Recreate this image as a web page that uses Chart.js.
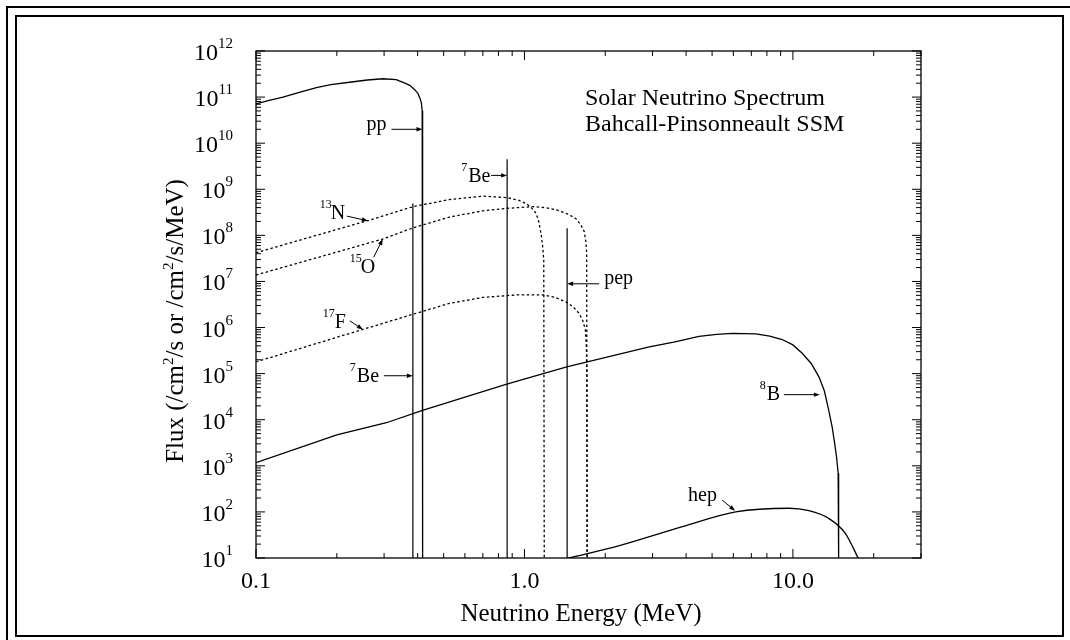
<!DOCTYPE html>
<html>
<head>
<meta charset="utf-8">
<script src="https://cdn.jsdelivr.net/npm/chart.js@4.4.1/dist/chart.umd.min.js"></script>
<style>
  html, body { margin: 0; padding: 0; background: #fff; }
  #wrap { width: 1070px; height: 640px; position: relative; }
</style>
</head>
<body>
<div id="wrap"><canvas id="spectrum"></canvas></div>
<script>
// energy in MeV, flux in /cm^2/s/MeV (continuum) or /cm^2/s (lines)
const ppEnergy  = [0.1, 0.112, 0.126, 0.145, 0.168, 0.19, 0.223, 0.26, 0.297, 0.333, 0.355, 0.374, 0.39, 0.401, 0.408, 0.413, 0.416, 0.4175];
const ppFlux    = [7.1e10, 8.5e10, 1.0e11, 1.26e11, 1.6e11, 1.86e11, 2.1e11, 2.35e11, 2.5e11, 2.4e11, 2.05e11, 1.8e11, 1.45e11, 1.2e11, 9.5e10, 7.5e10, 5.0e10, 10];

const n13Energy = [0.1, 0.2615, 0.385, 0.526, 0.70, 0.859, 0.95, 1.015, 1.06, 1.105, 1.13, 1.153, 1.17, 1.18, 1.185];
const n13Flux   = [4.2e7, 2.1e8, 4.2e8, 6.0e8, 7.1e8, 6.6e8, 5.8e8, 4.9e8, 4.0e8, 3.0e8, 2.0e8, 1.1e8, 5.5e7, 2.9e7, 10];

const o15Energy = [0.1, 0.296, 0.385, 0.526, 0.70, 0.859, 1.074, 1.2, 1.312, 1.45, 1.556, 1.62, 1.671, 1.695, 1.705, 1.712];
const o15Flux   = [1.38e7, 8.3e7, 1.46e8, 2.5e8, 3.4e8, 3.85e8, 4.2e8, 4.0e8, 3.6e8, 2.9e8, 2.3e8, 1.7e8, 1.2e8, 7.0e7, 4.1e7, 10];

const f17Energy = [0.1, 0.25, 0.385, 0.526, 0.70, 0.931, 1.17, 1.3, 1.429, 1.52, 1.601, 1.65, 1.686, 1.70, 1.708, 1.712];
const f17Flux   = [1.8e5, 9.1e5, 1.95e6, 3.35e6, 4.5e6, 5.1e6, 5.1e6, 4.5e6, 3.6e6, 2.8e6, 2.0e6, 1.4e6, 8.9e5, 4.0e5, 1.0e5, 10];

const b8Energy  = [0.1, 0.2, 0.306, 0.417, 0.859, 1.437, 2.915, 3.6, 4.47, 5.2, 5.95, 7.27, 8.2, 9.12, 10.0, 10.83, 11.7, 12.5, 13.1, 13.6, 14.0, 14.3, 14.55, 14.74, 14.8];
const b8Flux    = [1.17e3, 4.7e3, 8.6e3, 1.6e4, 5.9e4, 1.4e5, 3.8e5, 4.8e5, 6.4e5, 7.1e5, 7.5e5, 7.3e5, 6.5e5, 5.5e5, 4.2e5, 2.76e5, 1.66e5, 8.5e4, 4.2e4, 1.6e4, 7.0e3, 3.1e3, 1.5e3, 6.9e2, 10];

const hepEnergy = [1.46, 2.19, 3.88, 6.12, 9.67, 11.47, 13.6, 15.7, 17.5];
const hepFlux   = [10, 17.6, 47.8, 100, 120, 106, 72, 34, 10];

// mono-energetic lines: 7Be (0.384), 7Be (0.862), pep (1.442)
const lineEnergy = [0.384, 0.862, 1.442];
const lineFlux   = [4.9e8, 4.5e9, 1.42e8];

// axis ticks
const xTickValues = [0.1, 1, 10];
const xTickLabels = ['0.1', '1.0', '10.0'];
const yTickExponents = [1, 2, 3, 4, 5, 6, 7, 8, 9, 10, 11, 12];

// annotation anchors (arrow tips) in data units
const noteLabels  = ['pp', 'Be', 'N', 'O', 'F', 'Be', 'B', 'pep', 'hep'];
const noteSups    = ['', '7', '13', '15', '17', '7', '8', '', ''];
const noteEnergy  = [0.417, 0.862, 0.261, 0.2966, 0.25, 0.384, 12.6, 1.442, 6.09];
const noteFlux    = [2.0e10, 2.0e9, 2.07e8, 8.3e7, 9.1e5, 9.0e4, 3.5e4, 8.9e6, 106];

const titleLines = ['Solar Neutrino Spectrum', 'Bahcall-Pinsonneault SSM'];

// pixel offsets for the annotation layout: arrow tail, sup x, text x, baseline
const noteLayout = [
  { tail: [-31, 0],   supX: 0,   textX: -56, base: 1 },
  { tail: [-16, 0],   supX: -46, textX: -39, base: 6.5 },
  { tail: [-21, -4.7],supX: -48, textX: -37, base: -1.7 },
  { tail: [-9, 18],   supX: -33, textX: -22, base: 34 },
  { tail: [-13, -8.6],supX: -40, textX: -28, base: -1.3 },
  { tail: [-29, 0],   supX: -63, textX: -56, base: 6.3 },
  { tail: [-36, 0],   supX: -60, textX: -53, base: 5.3 },
  { tail: [32, 0],    supX: 0,   textX: 37,  base: 0.3 },
  { tail: [-13, -10.7], supX: 0, textX: -47, base: -9.7 }
];

const serif = '"Liberation Serif", "Times New Roman", serif';

function pts(xs, ys) {
  return xs.map((x, i) => ({ x: x, y: ys[i] }));
}

function curve(xs, ys, dashed, smooth) {
  return {
    data: pts(xs, ys),
    borderColor: '#000',
    borderWidth: 1.3,
    borderDash: dashed ? [2.5, 2.5] : [],
    pointRadius: 0,
    tension: 0,
    cubicInterpolationMode: smooth ? 'monotone' : 'default',
    fill: false
  };
}

const datasets = [
  curve(ppEnergy, ppFlux, false, false),
  curve(n13Energy, n13Flux, true, false),
  curve(o15Energy, o15Flux, true, false),
  curve(f17Energy, f17Flux, true, false),
  curve(b8Energy, b8Flux, false, false),
  curve(hepEnergy, hepFlux, false, true)
];
lineEnergy.forEach((e, i) => {
  datasets.push({
    data: [{ x: e, y: 10 }, { x: e, y: lineFlux[i] }],
    borderColor: '#000',
    borderWidth: 1.2,
    pointRadius: 0,
    fill: false
  });
});

function arrow(ctx, x0, y0, x1, y1) {
  const a = Math.atan2(y1 - y0, x1 - x0);
  ctx.beginPath();
  ctx.moveTo(x0, y0);
  ctx.lineTo(x1 - 4 * Math.cos(a), y1 - 4 * Math.sin(a));
  ctx.stroke();
  ctx.beginPath();
  ctx.moveTo(x1, y1);
  ctx.lineTo(x1 - 6 * Math.cos(a) + 2.2 * Math.sin(a), y1 - 6 * Math.sin(a) - 2.2 * Math.cos(a));
  ctx.lineTo(x1 - 6 * Math.cos(a) - 2.2 * Math.sin(a), y1 - 6 * Math.sin(a) + 2.2 * Math.cos(a));
  ctx.closePath();
  ctx.fill();
}

const framePlugin = {
  id: 'frame',
  afterDraw(chart) {
    const ctx = chart.ctx;
    const area = chart.chartArea;
    const xs = chart.scales.x;
    const ys = chart.scales.y;
    ctx.save();
    ctx.strokeStyle = '#000';
    ctx.fillStyle = '#000';

    // page frame
    ctx.lineWidth = 2;
    ctx.strokeRect(7, 7, 1080, 650);
    ctx.strokeRect(16, 16, 1047, 620);

    // plot box
    ctx.lineWidth = 1.3;
    ctx.strokeRect(area.left, area.top, area.right - area.left, area.bottom - area.top);

    // ticks, pointing inward
    ctx.lineWidth = 1;
    ctx.beginPath();
    for (let d = -1; d <= 1; d++) {
      for (let m = 1; m <= 9; m++) {
        const v = m * Math.pow(10, d);
        if (v < 0.1 || v > 30) continue;
        const px = xs.getPixelForValue(v);
        const len = m === 1 ? 9 : 5;
        ctx.moveTo(px, area.bottom); ctx.lineTo(px, area.bottom - len);
        ctx.moveTo(px, area.top); ctx.lineTo(px, area.top + len);
      }
    }
    yTickExponents.forEach(k => {
      for (let m = 1; m <= 9; m++) {
        if (k === 12 && m > 1) continue;
        const py = ys.getPixelForValue(m * Math.pow(10, k));
        const len = m === 1 ? 9 : 5;
        ctx.moveTo(area.left, py); ctx.lineTo(area.left + len, py);
        ctx.moveTo(area.right, py); ctx.lineTo(area.right - len, py);
      }
    });
    ctx.stroke();

    // x tick labels
    ctx.font = '24px ' + serif;
    ctx.textAlign = 'center';
    ctx.textBaseline = 'alphabetic';
    xTickValues.forEach((v, i) => {
      ctx.fillText(xTickLabels[i], xs.getPixelForValue(v), 588);
    });

    // y tick labels 10^k
    ctx.textAlign = 'right';
    yTickExponents.forEach(k => {
      const py = ys.getPixelForValue(Math.pow(10, k));
      ctx.font = '15px ' + serif;
      const sup = String(k);
      const w = ctx.measureText(sup).width;
      ctx.fillText(sup, 233, py - 3);
      ctx.font = '24px ' + serif;
      ctx.fillText('10', 233 - w, py + 9);
    });

    // axis titles
    ctx.font = '25px ' + serif;
    ctx.textAlign = 'center';
    ctx.fillText('Neutrino Energy (MeV)', 581, 621);

    ctx.save();
    ctx.translate(183, 321);
    ctx.rotate(-Math.PI / 2);
    ctx.textAlign = 'left';
    const parts = [['Flux (/cm', false], ['2', true], ['/s or /cm', false], ['2', true], ['/s/MeV)', false]];
    let total = 0;
    parts.forEach(p => {
      ctx.font = (p[1] ? '15px ' : '25px ') + serif;
      total += ctx.measureText(p[0]).width;
    });
    let cx = -total / 2;
    parts.forEach(p => {
      ctx.font = (p[1] ? '15px ' : '25px ') + serif;
      ctx.fillText(p[0], cx, p[1] ? -10 : 0);
      cx += ctx.measureText(p[0]).width;
    });
    ctx.restore();

    // title
    ctx.font = '24px ' + serif;
    ctx.textAlign = 'left';
    ctx.fillText(titleLines[0], 585, 105);
    ctx.fillText(titleLines[1], 585, 131);

    // source annotations
    ctx.lineWidth = 1;
    noteLabels.forEach((lab, i) => {
      const tx = xs.getPixelForValue(noteEnergy[i]);
      const ty = ys.getPixelForValue(noteFlux[i]);
      const L = noteLayout[i];
      arrow(ctx, tx + L.tail[0], ty + L.tail[1], tx, ty);
      ctx.font = '20px ' + serif;
      ctx.fillText(lab, tx + L.textX, ty + L.base);
      if (noteSups[i]) {
        ctx.font = '12px ' + serif;
        ctx.fillText(noteSups[i], tx + L.supX, ty + L.base - 11);
      }
    });
    ctx.restore();
  }
};

new Chart(document.getElementById('spectrum'), {
  type: 'line',
  data: { datasets: datasets },
  options: {
    responsive: true,
    maintainAspectRatio: false,
    animation: false,
    devicePixelRatio: 1,
    layout: { padding: { left: 256, right: 149, top: 51, bottom: 82 } },
    plugins: { legend: { display: false }, tooltip: { enabled: false } },
    scales: {
      x: { type: 'logarithmic', min: 0.1, max: 30, display: false },
      y: { type: 'logarithmic', min: 10, max: 1e12, display: false }
    }
  },
  plugins: [framePlugin]
});
</script>
</body>
</html>
